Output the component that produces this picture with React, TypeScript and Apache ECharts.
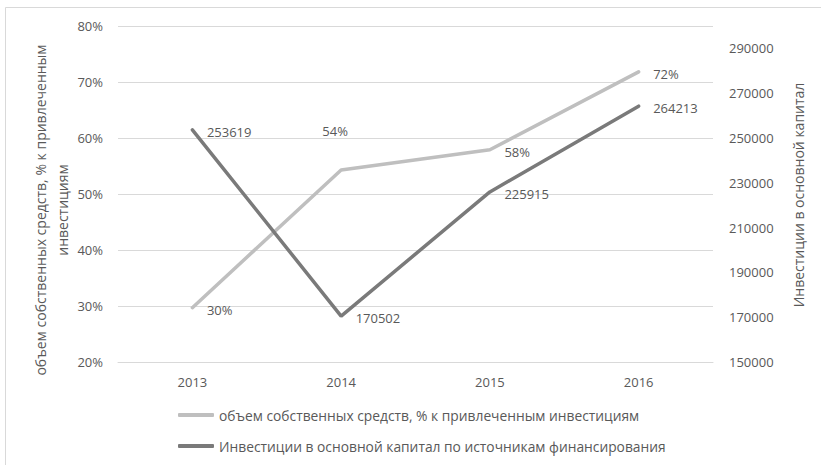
import React, { useEffect, useRef } from "react";
import * as echarts from "echarts";

const categories = ["2013", "2014", "2015", "2016"];
const ownFundsShare = [29.7, 54.3, 57.9, 71.8];
const investments = [253619, 170502, 225915, 264213];
const seriesNames = [
  "объем собственных средств, % к привлеченным инвестициям",
  "Инвестиции в основной капитал по источникам финансирования",
];
const leftTitle = ["объем собственных средств, % к привлеченным", "инвестициям"];
const rightTitle = "Инвестиции в основной капитал";

const FONT = "Open Sans";
const TXT = "#595959";
const LIGHT = "#BFBFBF";
const DARK = "#7A7A7A";

export default function App() {
  const ref = useRef<HTMLDivElement>(null);
  useEffect(() => {
    const chart = echarts.init(ref.current!, null, { renderer: "svg" });
    const legendBase = {
      orient: "horizontal",
      left: 178,
      padding: 0,
      itemWidth: 36,
      itemHeight: 4,
      icon: "roundRect",
      textStyle: { fontFamily: FONT, fontSize: 13.8, color: TXT },
    };
    chart.setOption({
      animation: false,
      textStyle: { fontFamily: FONT, color: TXT },
      grid: { left: 118, right: 108, top: 26, bottom: 103 },
      graphic: [
        {
          type: "rect",
          shape: { x: 5.5, y: 7.5, width: 830, height: 470 },
          style: { fill: "none", stroke: "#D9D9D9", lineWidth: 1 },
          silent: true,
        },
        {
          type: "text",
          x: 51,
          y: 210,
          rotation: Math.PI / 2,
          style: {
            text: leftTitle.join("\n"),
            align: "center",
            verticalAlign: "middle",
            lineHeight: 22,
            fontSize: 14,
            fontFamily: FONT,
            fill: TXT,
          },
        },
        {
          type: "text",
          x: 798,
          y: 195,
          rotation: Math.PI / 2,
          style: {
            text: rightTitle,
            align: "center",
            verticalAlign: "middle",
            fontSize: 14,
            fontFamily: FONT,
            fill: TXT,
          },
        },
      ],
      legend: [
        { ...legendBase, top: 408, data: [seriesNames[0]] },
        { ...legendBase, top: 439, data: [seriesNames[1]] },
      ],
      xAxis: {
        type: "category",
        data: categories,
        boundaryGap: true,
        axisLine: { lineStyle: { color: "#D9D9D9" } },
        axisTick: { show: false },
        axisLabel: { fontSize: 13, color: TXT, fontFamily: FONT, margin: 13 },
      },
      yAxis: [
        {
          type: "value",
          min: 20,
          max: 80,
          interval: 10,
          axisLine: { show: false },
          axisTick: { show: false },
          splitLine: { lineStyle: { color: "#D9D9D9" } },
          axisLabel: { fontSize: 13, color: TXT, fontFamily: FONT, margin: 15, formatter: "{value}%" },
        },
        {
          type: "value",
          min: 150000,
          max: 300000,
          interval: 10000,
          axisLine: { show: false },
          axisTick: { show: false },
          splitLine: { show: false },
          axisLabel: {
            fontSize: 13,
            color: TXT,
            fontFamily: FONT,
            margin: 16,
            formatter: (v: number) => ((v - 150000) % 20000 === 0 ? String(v) : ""),
          },
        },
      ],
      series: [
        {
          name: seriesNames[0],
          type: "line",
          yAxisIndex: 0,
          data: ownFundsShare.map((v, i) =>
            i === 1
              ? { value: v, label: { position: "top", offset: [-6, -18] } }
              : v
          ),
          symbol: "circle",
          symbolSize: 1,
          showSymbol: true,
          lineStyle: { color: LIGHT, width: 3.5, cap: "round" },
          itemStyle: { color: LIGHT },
          label: {
            show: true,
            position: "right",
            distance: 14,
            offset: [0, 2],
            fontSize: 13,
            fontFamily: FONT,
            color: TXT,
            formatter: (p: any) => Math.round(p.value) + "%",
          },
        },
        {
          name: seriesNames[1],
          type: "line",
          yAxisIndex: 1,
          data: investments,
          symbol: "circle",
          symbolSize: 1,
          showSymbol: true,
          lineStyle: { color: DARK, width: 3.5, cap: "round" },
          itemStyle: { color: DARK },
          label: {
            show: true,
            position: "right",
            distance: 14,
            offset: [0, 2],
            fontSize: 13,
            fontFamily: FONT,
            color: TXT,
          },
        },
      ],
    });
    return () => chart.dispose();
  }, []);
  return (
    <div
      ref={ref}
      style={{ position: "absolute", left: 0, top: 0, width: 821, height: 465, background: "#fff" }}
    />
  );
}
